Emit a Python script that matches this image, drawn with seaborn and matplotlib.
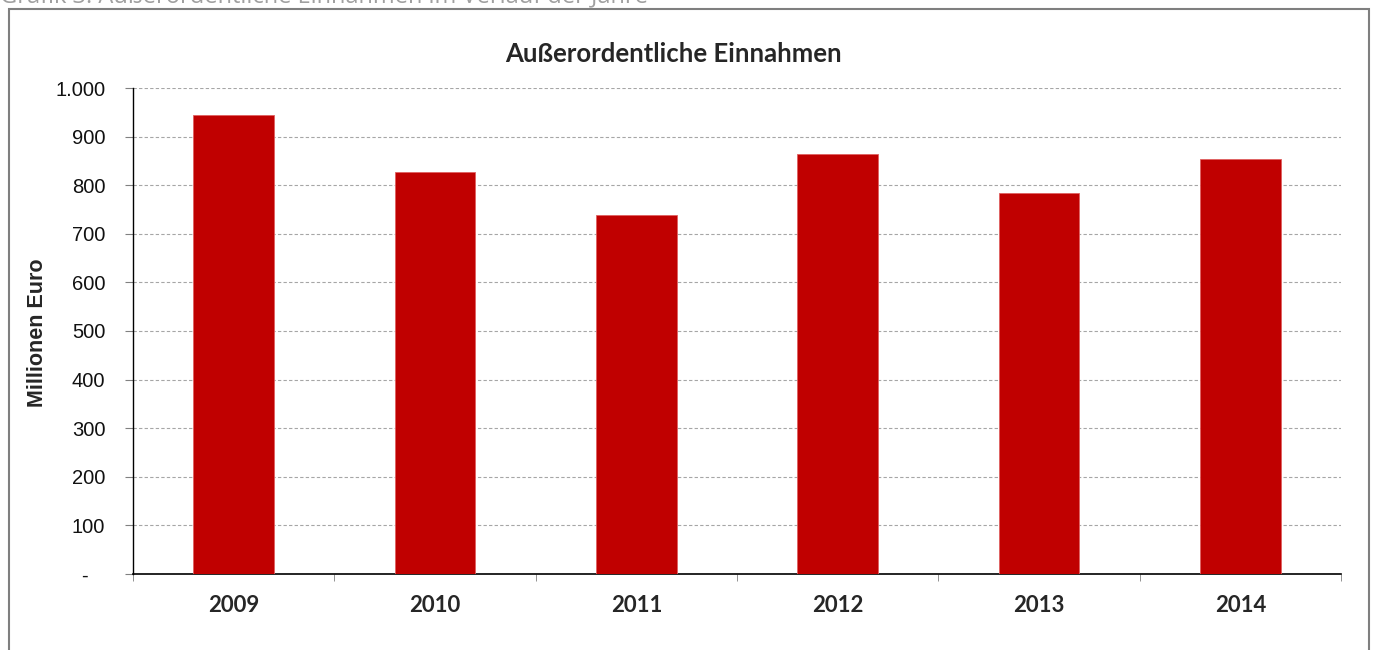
import matplotlib
matplotlib.use("Agg")
import matplotlib.pyplot as plt
import matplotlib.patches as patches
import numpy as np
import pandas as pd
import seaborn as sns

years = ["2009", "2010", "2011", "2012", "2013", "2014"]
einnahmen = [944, 827, 739, 864, 784, 854]
yticks = [0, 100, 200, 300, 400, 500, 600, 700, 800, 900, 1000]
ytick_labels = ["-   ", "100", "200", "300", "400", "500", "600", "700", "800", "900", "1.000"]

df = pd.DataFrame({"Jahr": years, "Wert": einnahmen})

sns.set_style("white")
plt.rcParams['font.family'] = ['Liberation Sans', 'DejaVu Sans']

fig = plt.figure(figsize=(13.75, 6.5), dpi=100)
W, H = 1375, 650
ax = fig.add_axes([133 / W, 1 - 574 / H, (1341 - 133) / W, (574 - 88) / H])

sns.barplot(data=df, x="Jahr", y="Wert", ax=ax, color="#C00000", width=0.4,
            saturation=1, edgecolor="#E06060", linewidth=0.6, zorder=3)

ax.set_ylim(0, 1000)
ax.set_xlim(-0.5, len(years) - 0.5)
ax.set_yticks(yticks)
ax.set_yticklabels(ytick_labels, fontsize=14.5, color="#111111")
ax.yaxis.grid(True, linestyle=(0, (3, 2)), color="#A6A6A6", linewidth=0.8, zorder=0)
ax.tick_params(axis='y', length=6, color="#808080", pad=14, left=True)

# category boundary ticks
ax.set_xticks(np.arange(-0.5, len(years)), minor=True)
ax.tick_params(axis='x', which='minor', length=5, color="#808080", bottom=True)
ax.tick_params(axis='x', which='major', length=0, pad=15)
ax.set_xticklabels(years, fontsize=16, fontweight='bold', family=['Lato', 'DejaVu Sans'])

ax.set_xlabel("")
ax.set_ylabel("")
for s in ["top", "right"]:
    ax.spines[s].set_visible(False)
ax.spines["left"].set_color("black")
ax.spines["bottom"].set_color("black")
ax.spines["left"].set_linewidth(1)
ax.spines["bottom"].set_linewidth(1.2)

fig.text(38 / W, 1 - 333 / H, "Millionen Euro", rotation=90, ha='center', va='center',
         fontsize=15.5, fontweight='bold')
fig.text(673 / W, 1 - 54 / H, "Außerordentliche Einnahmen", ha='center', va='center',
         fontsize=18.5, fontweight='bold', family=['Lato', 'DejaVu Sans'])

# outer frame
fig.patches.append(patches.Rectangle((9 / W, -0.05), (1369 - 9) / W, 1 - 9 / H + 0.05,
                                     transform=fig.transFigure, fill=False,
                                     edgecolor="#7F7F7F", linewidth=1.5))

# caption above the chart, cut off at the top edge as in the source image
fig.text(0.0, 1 - 2 / H, "Grafik 3: Außerordentliche Einnahmen im Verlauf der Jahre",
         ha='left', va='baseline', fontsize=17, color="#A0A0A0",
         family=['Open Sans', 'DejaVu Sans'])

fig.savefig("out.png", dpi=100)
